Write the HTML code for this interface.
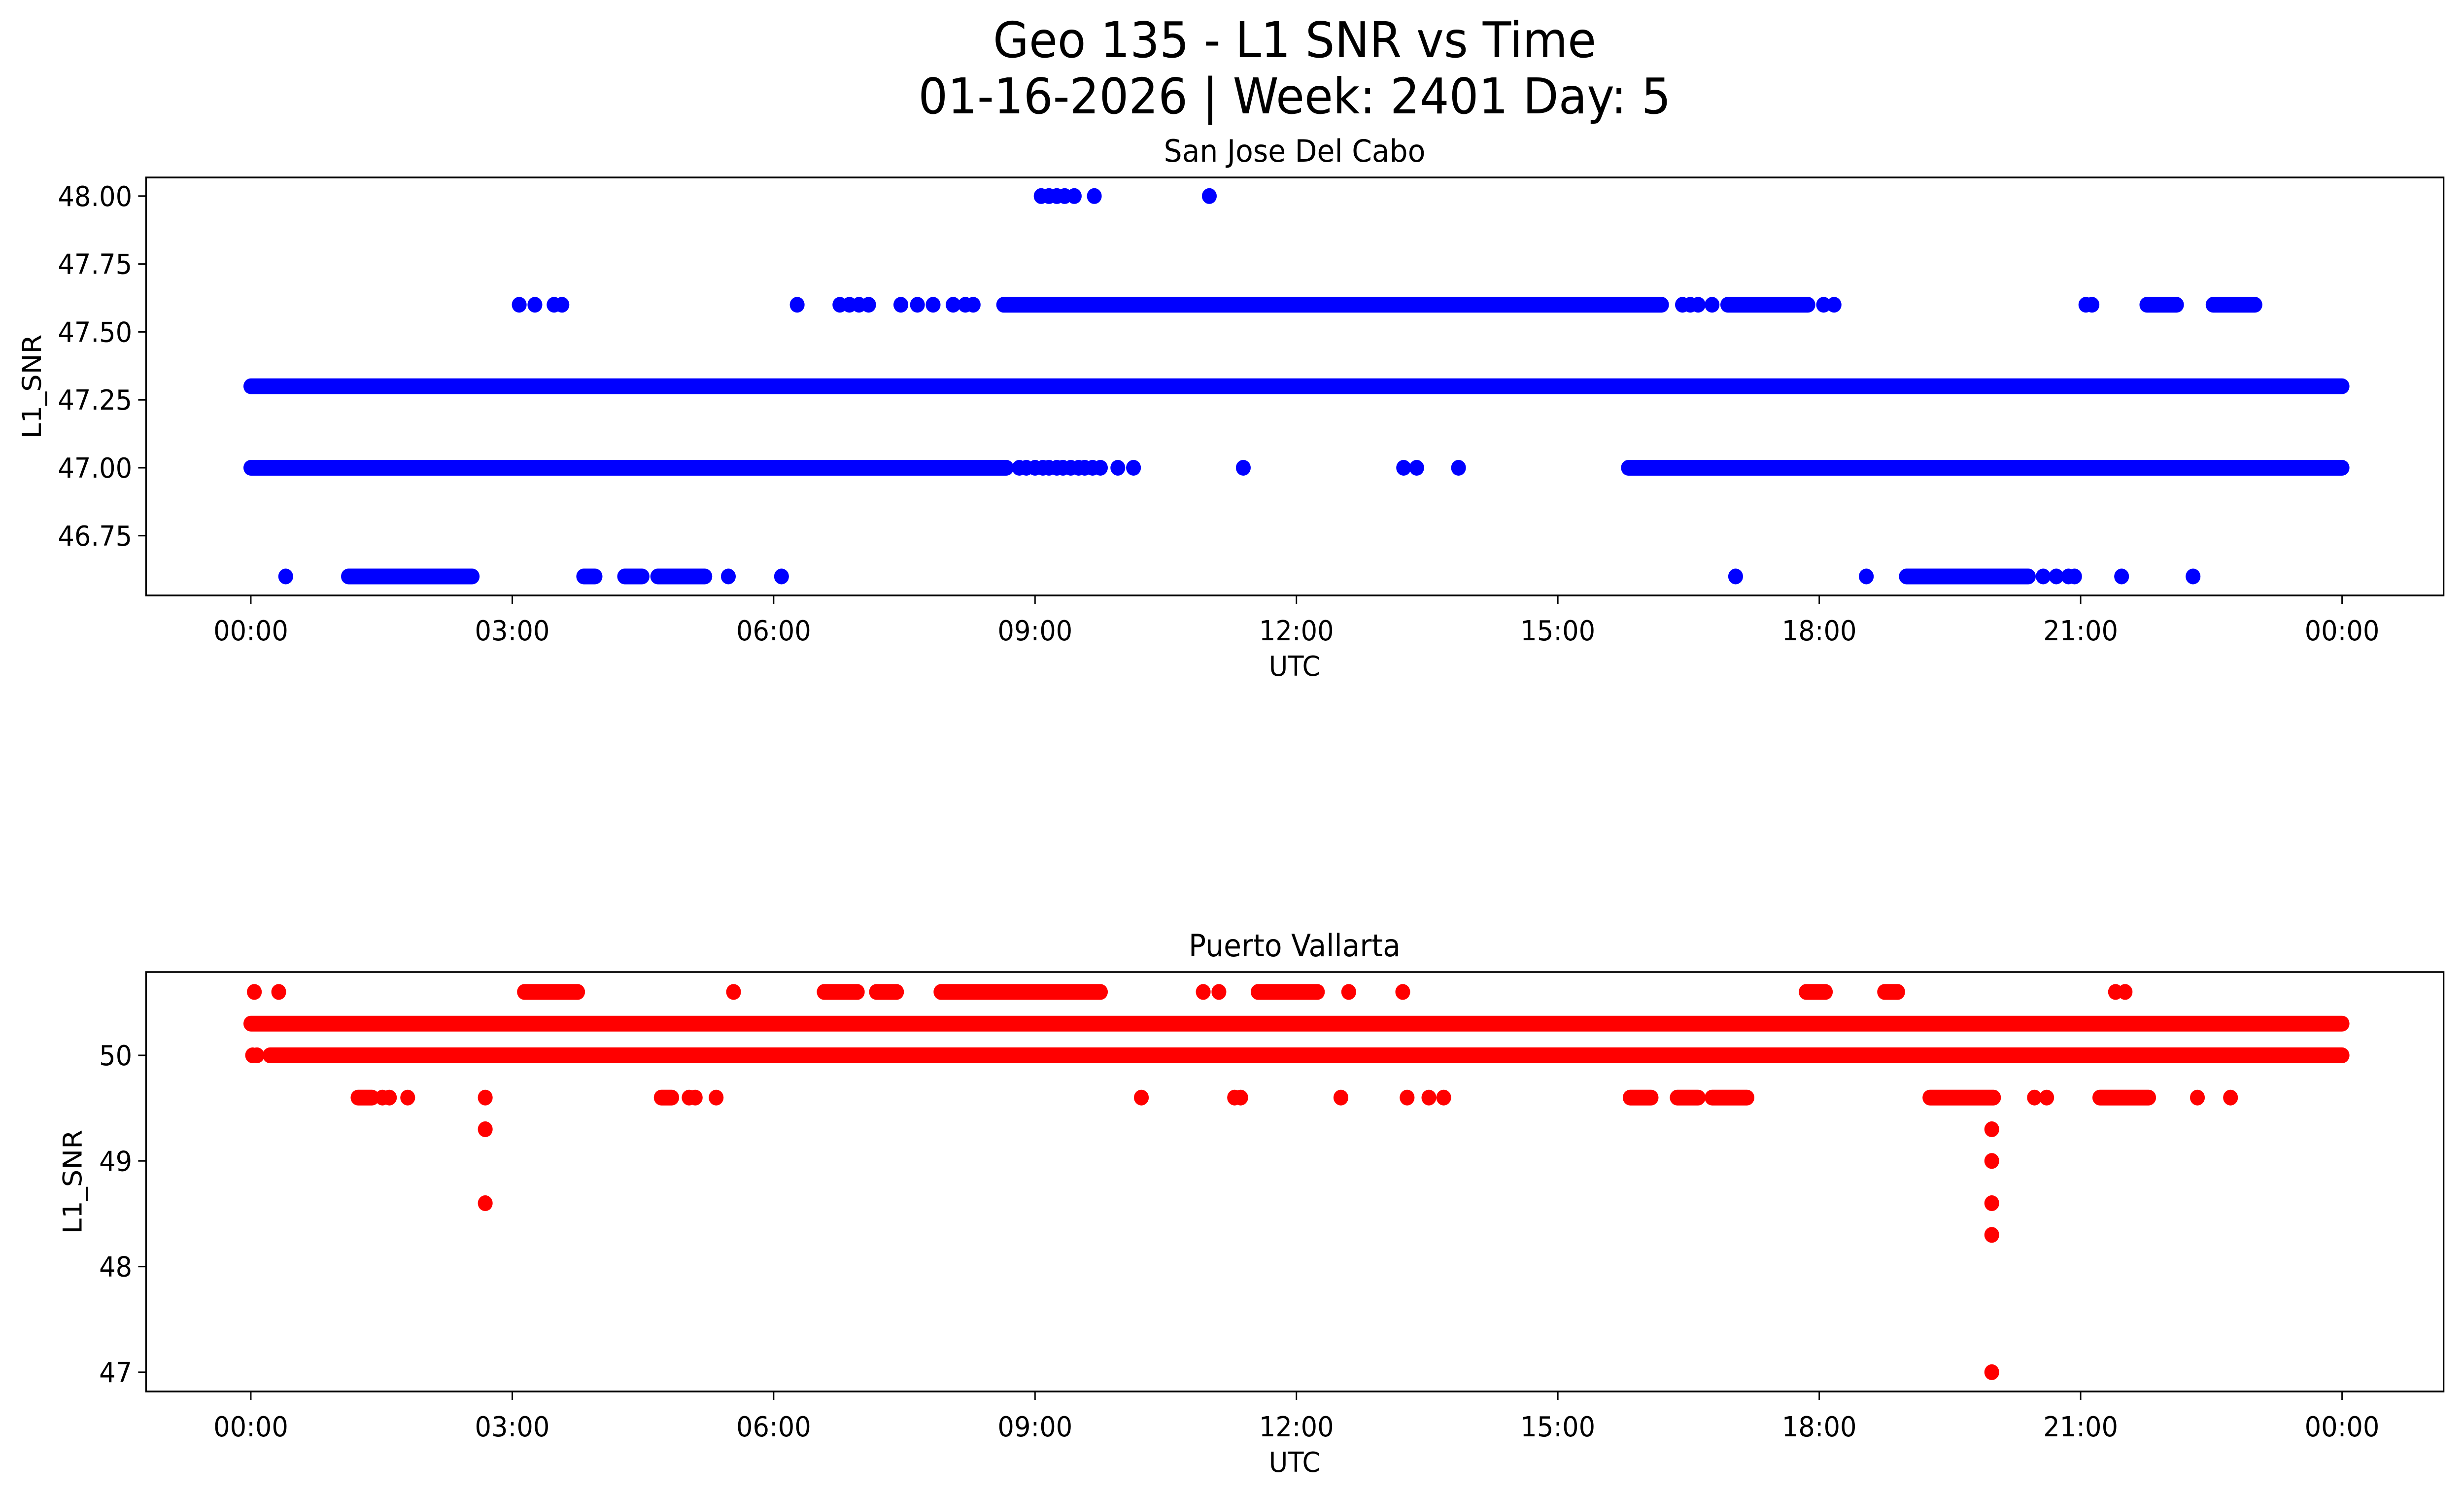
<!DOCTYPE html>
<html><head><meta charset="utf-8"><style>
html,body{margin:0;padding:0;background:#fff;width:100%;height:100%;overflow:hidden}
svg{display:block;position:fixed;left:0;top:0;width:100vw;height:100vh;font-family:"DejaVu Sans","Liberation Sans",sans-serif}
</style></head><body>
<svg id="fig" viewBox="0 0 5314 3033" preserveAspectRatio="none" xmlns="http://www.w3.org/2000/svg">
<rect width="5314" height="3033" fill="#fff"/>
<text x="2792" y="116" font-size="100" text-anchor="middle">Geo 135 - L1 SNR vs Time</text>
<text x="2792" y="230" font-size="100" text-anchor="middle">01-16-2026 | Week: 2401 Day: 5</text>
<g id="top"></g>
<g id="bot"></g>
</svg>
<script>
// ---- data (hours UTC) ----
const xTickLabels = ["00:00","03:00","06:00","09:00","12:00","15:00","18:00","21:00","00:00"];
const topYTicks = [46.75,47.00,47.25,47.50,47.75,48.00];
const botYTicks = [47,48,49,50];
// Top panel: continuous runs [level, start, end]
const topRunLevels = [47.3, 47.0, 47.0, 47.6, 47.6, 47.6, 47.6, 46.6, 46.6, 46.6, 46.6, 46.6];
const topRunStarts = [0.0, 0.0, 15.81, 8.64, 16.95, 21.76, 22.52, 1.12, 3.82, 4.29, 4.67, 19.0];
const topRunEnds   = [24.0, 8.67, 24.0, 16.19, 17.87, 22.1, 23.0, 2.54, 3.95, 4.49, 5.21, 20.4];
// Top panel: isolated points
const topPtVals  = [48,48,48,48,48,48,48,
  47.6,47.6,47.6,47.6,47.6,47.6,47.6,47.6,47.6,47.6,47.6,47.6,47.6,47.6,47.6,47.6,47.6,47.6,47.6,47.6,47.6,47.6,47.6,
  47,47,47,47,47,47,47,47,47,47,47,47,47,47,47,47,47,47,
  46.6,46.6,46.6,46.6,46.6,46.6,46.6,46.6,46.6,46.6,46.6];
const topPtHours = [9.07,9.16,9.25,9.34,9.45,9.68,11.0,
  3.08,3.26,3.48,3.57,6.27,6.76,6.87,6.98,7.09,7.46,7.65,7.83,8.06,8.2,8.29,16.43,16.52,16.61,16.77,18.05,18.17,21.06,21.13,
  8.82,8.9,9.0,9.09,9.16,9.25,9.32,9.41,9.5,9.57,9.66,9.75,9.95,10.13,11.39,13.23,13.38,13.86,
  0.4,5.48,6.09,17.04,18.54,20.57,20.72,20.86,20.93,21.47,22.29];
// Bottom panel runs
const botRunLevels = [50.3, 50.0, 50.6, 50.6, 50.6, 50.6, 50.6, 50.6, 50.6, 49.6, 49.6, 49.6, 49.6, 49.6, 49.6, 49.6];
const botRunStarts = [0.0, 0.22, 3.14, 6.58, 7.18, 7.92, 11.56, 17.85, 18.75, 1.23, 15.83, 16.37, 16.77, 19.27, 21.22, 4.71];
const botRunEnds   = [24.0, 24.0, 3.75, 6.96, 7.41, 9.75, 12.24, 18.07, 18.9, 1.39, 16.07, 16.61, 17.17, 20.0, 21.78, 4.83];
// Bottom panel isolated points
const botPtVals  = [50,50,50.6,50.6,50.6,50.6,50.6,50.6,50.6,50.6,50.6,
  49.6,49.6,49.6,49.6,49.6,49.6,49.6,49.6,49.6,49.6,49.6,49.6,49.6,49.6,49.6,49.6,49.6,49.6,
  49.3,48.6,49.3,49.0,48.6,48.3,47.0];
const botPtHours = [0.02,0.07,0.04,0.32,5.54,10.93,11.11,12.6,13.22,21.4,21.51,
  1.51,1.59,1.8,2.69,5.03,5.1,5.34,10.22,11.29,11.36,12.51,13.27,13.52,13.69,20.47,20.61,22.34,22.72,
  2.69,2.69,19.98,19.98,19.98,19.98,19.98];

const NS="http://www.w3.org/2000/svg";
function mk(tag, attrs, parent){const e=document.createElementNS(NS,tag);for(const k in attrs)e.setAttribute(k,attrs[k]);parent.appendChild(e);return e;}
const X0=315, X1=5270;
const xScale = h => 541 + h*(4510/24);
const R=16;

function panel(g, cfg){
  const y = cfg.y;
  for(let i=0;i<cfg.runL.length;i++){
    const l=mk('line',{x1:xScale(cfg.runS[i]),x2:xScale(cfg.runE[i]),y1:y(cfg.runL[i]),y2:y(cfg.runL[i]),stroke:cfg.color,'stroke-width':2*R,'stroke-linecap':'round'},g);
    
    
  }
  for(let i=0;i<cfg.ptV.length;i++){
    const c=mk('ellipse',{cx:xScale(cfg.ptH[i]),cy:y(cfg.ptV[i]),rx:R,ry:R,fill:cfg.color},g);
    
    
  }
  const sp=mk('rect',{x:X0,y:cfg.top,width:X1-X0,height:cfg.bot-cfg.top,fill:'none',stroke:'#000','stroke-width':3.5},g);
  
  
  cfg.yt.forEach(v=>{
    const yy=y(v);
    mk('line',{x1:X0-17,x2:X0,y1:yy,y2:yy,stroke:'#000','stroke-width':3},g);
    const t=mk('text',{x:X0-30,y:yy+20,'font-size':56,'text-anchor':'end'},g);
    t.textContent=cfg.fmt(v);
    
    
  });
  xTickLabels.forEach((s,i)=>{
    const xx=xScale(i*3);
    mk('line',{x1:xx,x2:xx,y1:cfg.bot,y2:cfg.bot+17,stroke:'#000','stroke-width':3},g);
    const t=mk('text',{x:xx,y:cfg.bot+91,'font-size':56,'text-anchor':'middle'},g);
    t.textContent=s;
    
    
  });
  const xl=mk('text',{x:2792,y:cfg.bot+163,'font-size':56,'text-anchor':'middle'},g);
  xl.textContent='UTC';
  
  
  const yl=mk('text',{x:0,y:0,'font-size':56,'text-anchor':'middle',transform:`translate(${cfg.ylx},${(cfg.top+cfg.bot)/2}) rotate(-90)`},g);
  yl.textContent='L1_SNR';
  
  
  const ti=mk('text',{x:2792,y:cfg.top-32,'font-size':62,'text-anchor':'middle'},g);
  ti.textContent=cfg.title;
  
  
}

panel(document.getElementById('top'),{
  top:360,bot:1208,color:'#0000ff',title:'San Jose Del Cabo',ylx:88,
  y:v=>949-(v-47)*551.2, yt:topYTicks, fmt:v=>v.toFixed(2),
  runL:topRunLevels,runS:topRunStarts,runE:topRunEnds,ptV:topPtVals,ptH:topPtHours
});
panel(document.getElementById('bot'),{
  top:1972,bot:2823,color:'#ff0000',title:'Puerto Vallarta',ylx:176,
  y:v=>2141-(v-50)*214.3, yt:botYTicks, fmt:v=>String(v),
  runL:botRunLevels,runS:botRunStarts,runE:botRunEnds,ptV:botPtVals,ptH:botPtHours
});
</script>
</body></html>
